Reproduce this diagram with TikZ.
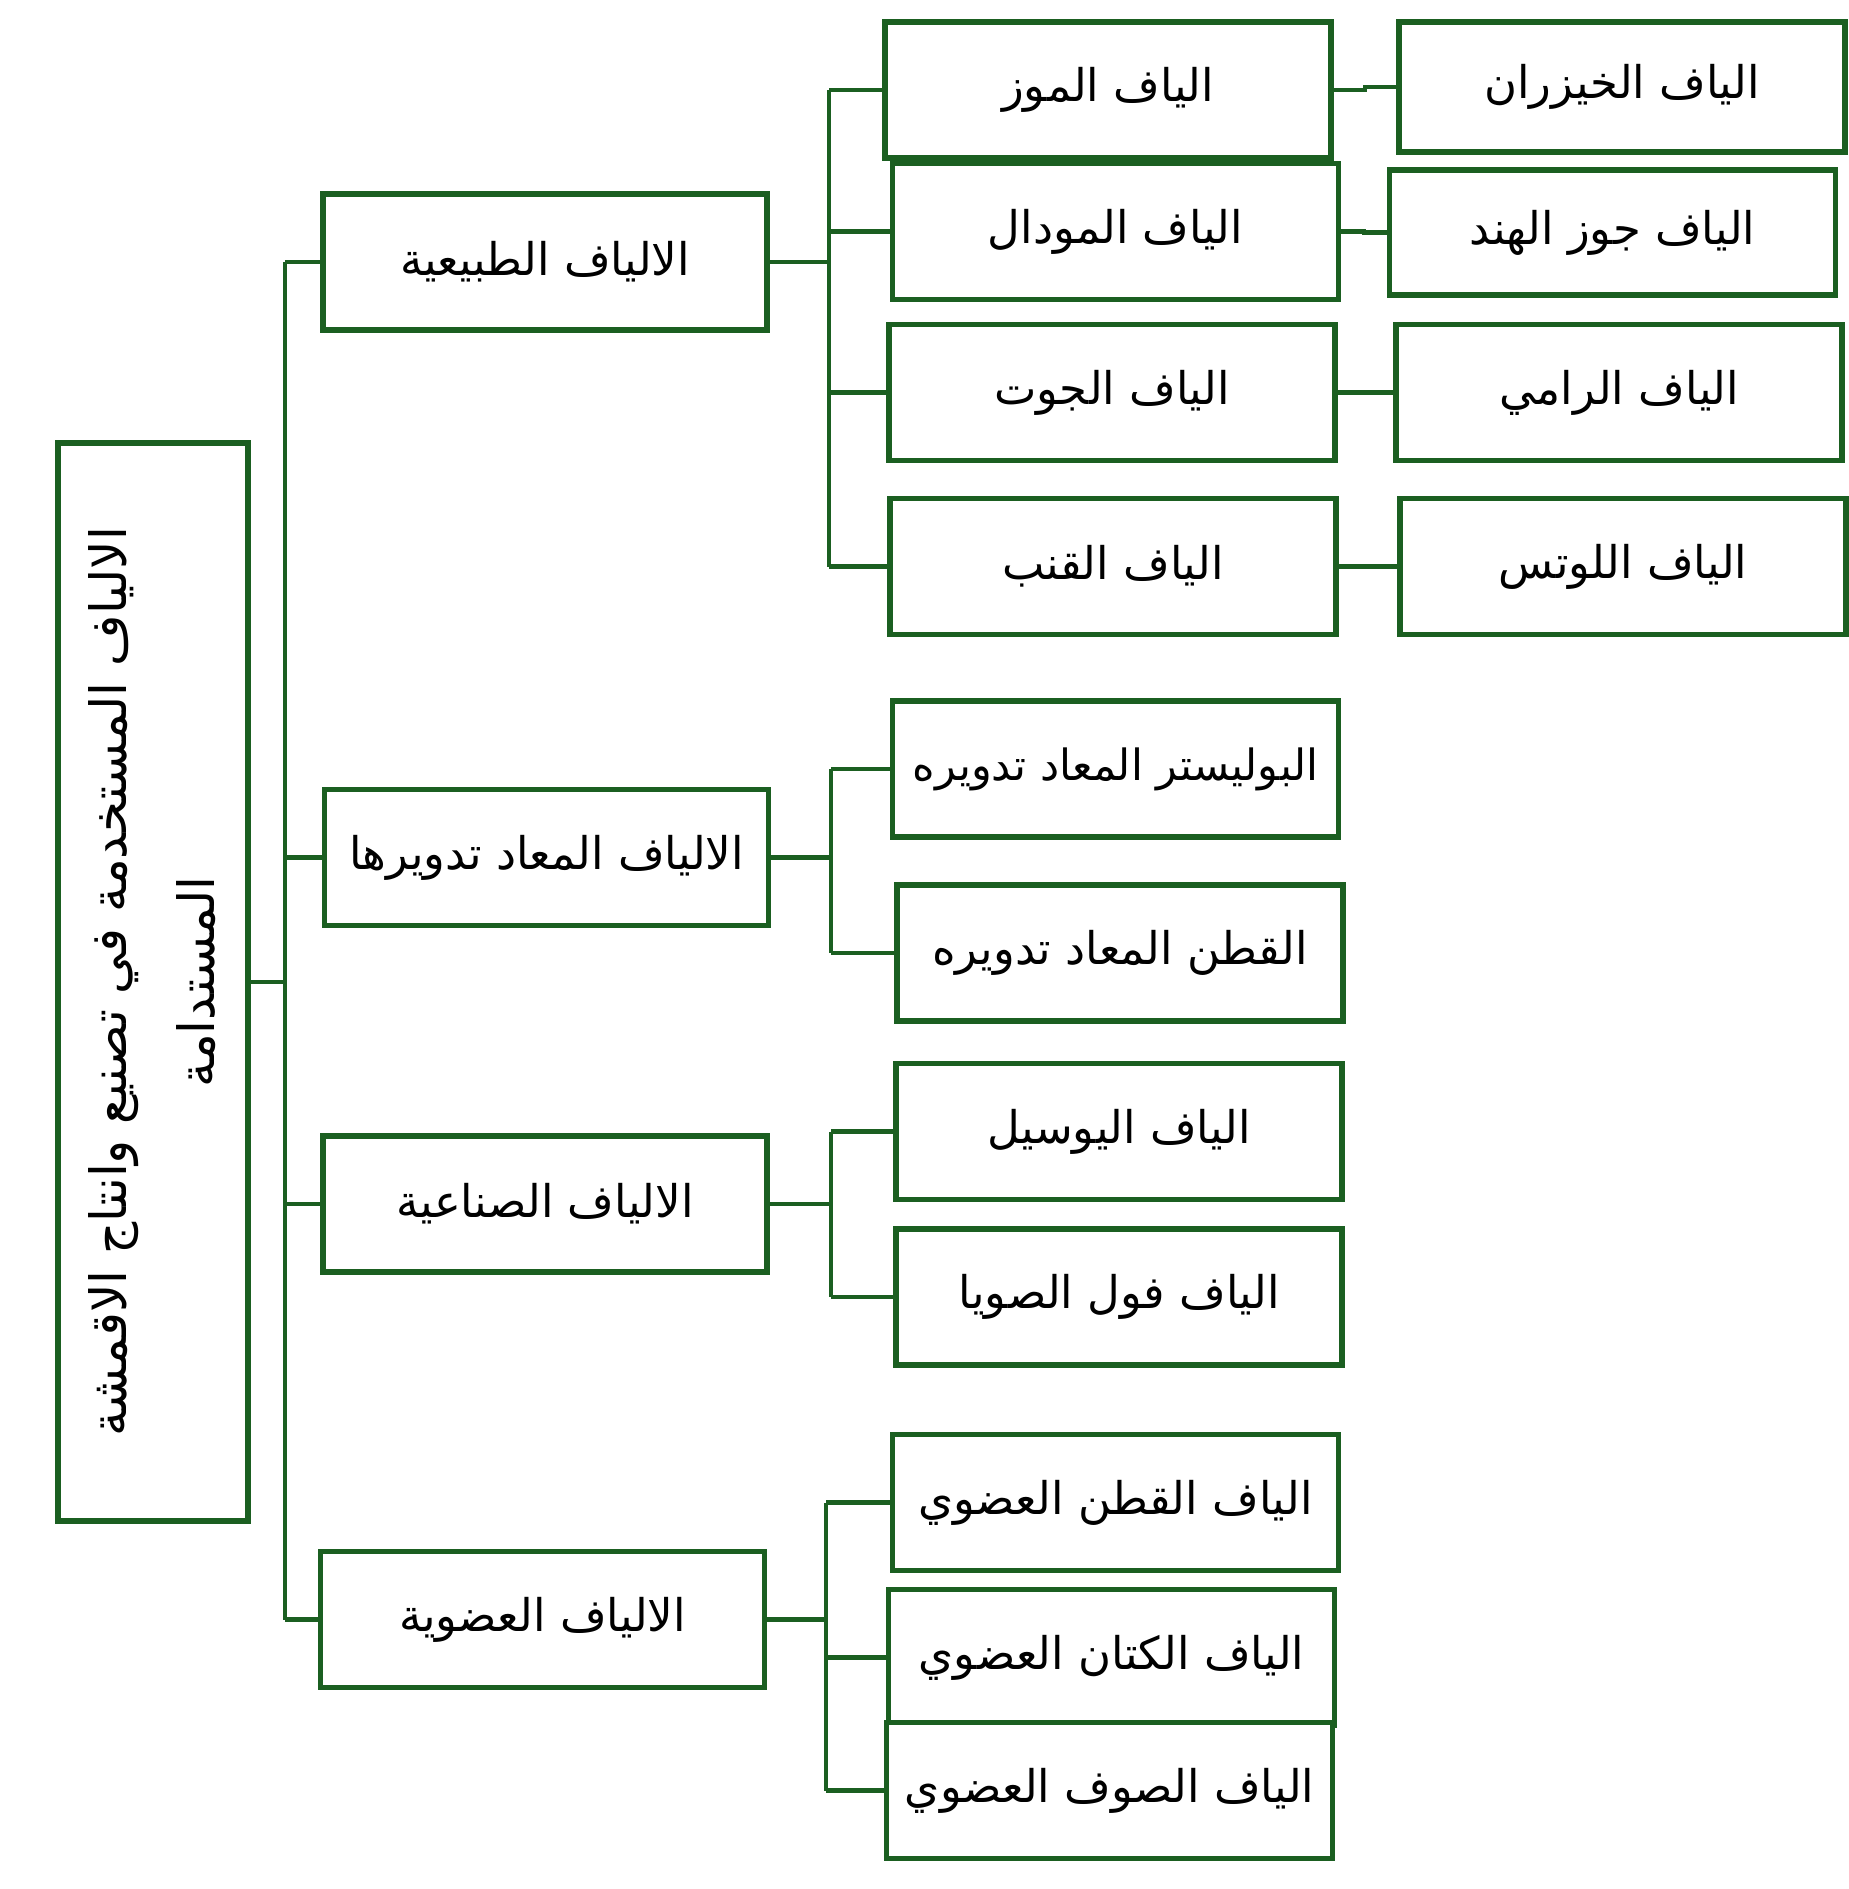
\documentclass[tikz,border=0pt]{standalone}
\usepackage{fontspec}
\usetikzlibrary{calc}
\TeXXeTstate=1
\newfontfamily\arabicfont[Script=Arabic]{DejaVu Sans}
\definecolor{treegreen}{RGB}{27,95,33}
\newcommand{\ar}[1]{\beginR #1\endR}
\begin{document}
\begin{tikzpicture}[x=0.5pt,y=-0.5pt,
  box/.style={draw=treegreen, line width=2.6pt, fill=white, inner sep=0pt,
    font=\arabicfont\fontsize{22.5}{28}\selectfont, text=black},
  lvlone/.style={box, minimum width=222pt, minimum height=68pt},
  lvltwo/.style={box, minimum width=223pt, minimum height=68pt},
  link/.style={draw=treegreen, line width=2.4pt}]
\useasboundingbox (0,0) rectangle (1848,1889);

% root box with its two-line caption turned on its side
\node[box, minimum width=95pt, minimum height=539pt] (root) at (153,982) {};
\node[font=\arabicfont\fontsize{25}{44}\selectfont, rotate=90, align=center] (roottext) at (152,982)
  {\ar{الالياف المستخدمة في تصنيع وانتاج الاقمشة}\\ \ar{المستدامة}};

% first level
\node[lvlone] (nat) at (545,262) {\ar{الالياف الطبيعية}};
\node[lvlone] (rec) at (546.5,857.5) {\ar{الالياف المعاد تدويرها}};
\node[lvlone] (syn) at (545,1204) {\ar{الالياف الصناعية}};
\node[lvlone] (org) at (542.5,1619.5) {\ar{الالياف العضوية}};

% natural fibres
\node[lvltwo] (banana) at (1108,90) {\ar{الياف الموز}};
\node[lvltwo] (modal) at (1115.5,231.5) {\ar{الياف المودال}};
\node[lvltwo] (jute) at (1112,392.5) {\ar{الياف الجوت}};
\node[lvltwo] (hemp) at (1113,566.5) {\ar{الياف القنب}};
\node[lvltwo, minimum height=65pt] (bamboo) at (1622,87) {\ar{الياف الخيزران}};
\node[lvltwo, minimum height=62.5pt] (coconut) at (1612.5,232.5) {\ar{الياف جوز الهند}};
\node[lvltwo] (ramie) at (1619,392.5) {\ar{الياف الرامي}};
\node[lvltwo] (lotus) at (1623,566.5) {\ar{الياف اللوتس}};

% recycled fibres
\node[lvltwo] (poly) at (1115.5,769) {\fontsize{21.5}{28}\selectfont\ar{البوليستر المعاد تدويره}};
\node[lvltwo] (rcot) at (1120,953) {\ar{القطن المعاد تدويره}};

% synthetic fibres
\node[lvltwo] (visc) at (1119,1131.5) {\ar{الياف اليوسيل}};
\node[lvltwo] (soy) at (1119,1297) {\ar{الياف فول الصويا}};

% organic fibres
\node[lvltwo] (ocot) at (1115.5,1502.5) {\ar{الياف القطن العضوي}};
\node[lvltwo] (linen) at (1111.5,1657.5) {\ar{الياف الكتان العضوي}};
\node[lvltwo] (wool) at (1109.5,1790.5) {\ar{الياف الصوف العضوي}};

% x positions of the vertical trunks
\coordinate (b0) at (285,0);
\coordinate (bn) at (829,0);
\coordinate (br) at (831,0);
\coordinate (bs) at (831,0);
\coordinate (bo) at (826,0);

% root to first level
\draw[link] (root.east) -- (b0 |- root.east);
\draw[link] (b0 |- nat.west) -- (b0 |- org.west);
\foreach \n in {nat,rec,syn,org} \draw[link] (b0 |- \n.west) -- (\n.west);

% natural
\draw[link] (nat.east) -- (bn |- nat.east);
\draw[link] (bn |- banana.west) -- (bn |- hemp.west);
\foreach \n in {banana,modal,jute,hemp} \draw[link] (bn |- \n.west) -- (\n.west);
\draw[link] (banana.east) -| ($(banana.east)!0.5!(bamboo.west)$) |- (bamboo.west);
\draw[link] (modal.east) -| ($(modal.east)!0.5!(coconut.west)$) |- (coconut.west);
\draw[link] (jute.east) -- (ramie.west);
\draw[link] (hemp.east) -- (lotus.west);

% recycled
\draw[link] (rec.east) -- (br |- rec.east);
\draw[link] (br |- poly.west) -- (br |- rcot.west);
\foreach \n in {poly,rcot} \draw[link] (br |- \n.west) -- (\n.west);

% synthetic
\draw[link] (syn.east) -- (bs |- syn.east);
\draw[link] (bs |- visc.west) -- (bs |- soy.west);
\foreach \n in {visc,soy} \draw[link] (bs |- \n.west) -- (\n.west);

% organic
\draw[link] (org.east) -- (bo |- org.east);
\draw[link] (bo |- ocot.west) -- (bo |- wool.west);
\foreach \n in {ocot,linen,wool} \draw[link] (bo |- \n.west) -- (\n.west);
\end{tikzpicture}
\end{document}
